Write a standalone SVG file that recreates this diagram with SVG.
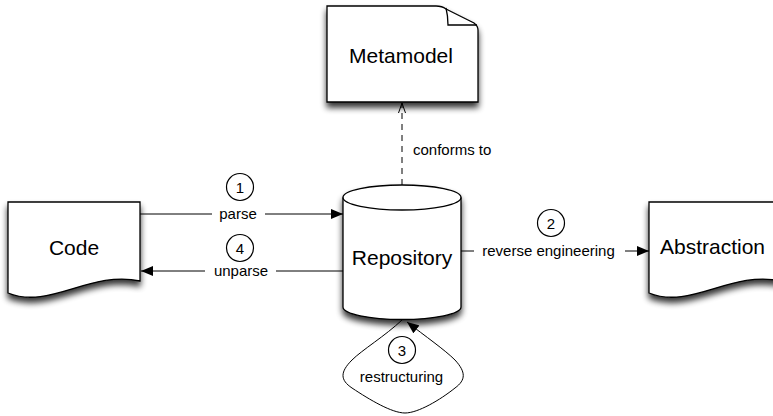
<svg xmlns="http://www.w3.org/2000/svg" width="773" height="416" viewBox="0 0 773 416">
<defs>
<filter id="sh" x="-20%" y="-20%" width="140%" height="150%">
<feGaussianBlur in="SourceAlpha" stdDeviation="3"/>
<feOffset dx="0" dy="5" result="b"/>
<feComponentTransfer><feFuncA type="linear" slope="0.8"/></feComponentTransfer>
<feMerge><feMergeNode/><feMergeNode in="SourceGraphic"/></feMerge>
</filter>
<marker id="arr" viewBox="0 0 12 10" refX="12" refY="5" markerWidth="12" markerHeight="10" markerUnits="userSpaceOnUse" orient="auto">
<path d="M0,0 L12,5 L0,10 Z" fill="#000"/>
</marker>
<marker id="open" viewBox="0 0 10 8" refX="10" refY="4" markerWidth="10" markerHeight="8" markerUnits="userSpaceOnUse" orient="auto">
<path d="M0,0.5 L10,4 L0,7.5" fill="none" stroke="#000" stroke-width="1"/>
</marker>
</defs>
<style>
.node{fill:#fff;stroke:#000;stroke-width:1.3;filter:url(#sh)}
.line{fill:none;stroke:#000;stroke-width:1.3}
.conn{fill:none;stroke:#000;stroke-width:1}
.nl{font-family:"Liberation Sans",Arial,sans-serif;font-size:21px;fill:#000;text-anchor:middle}
.lbl{font-family:"Liberation Sans",Arial,sans-serif;font-size:15px;fill:#000;text-anchor:middle}
.num{fill:#fff;stroke:#000;stroke-width:1.2}
</style>
<rect width="773" height="416" fill="#fff"/>
<g id="metamodel">
<path class="node" d="M327,6 H436 Q442,6 446,9 L474,23 Q478,26 478,30 V102 H327 Z"/>
<path class="line" d="M446,8 Q448,16 448,25 H477"/>
<text class="nl" x="401" y="63">Metamodel</text>
</g>
<g id="code">
<path class="node" d="M8,202 H140 V281 C90,270 50,310 8,293 Z"/>
<text class="nl" x="74" y="255">Code</text>
</g>
<g id="abstraction">
<path class="node" d="M649,202 H781 V281 C731,270 691,310 649,293 Z"/>
<text class="nl" x="660" y="254" style="text-anchor:start">Abstraction</text>
</g>
<g id="repository">
<path class="node" d="M343,197.5 A59,12.5 0 0 1 461,197.5 V307 A59,12.5 0 0 1 343,307 Z"/>
<path class="line" d="M343,197.5 A59,12.5 0 0 0 461,197.5"/>
<text class="nl" x="402" y="265">Repository</text>
</g>
<g id="connectors">
<line class="conn" x1="402" y1="185" x2="402" y2="103" stroke-dasharray="6,5" marker-end="url(#open)"/>
<text class="lbl" x="413" y="155" style="text-anchor:start">conforms to</text>
<line class="conn" x1="140" y1="214" x2="212" y2="214"/>
<line class="conn" x1="265" y1="214" x2="343" y2="214" marker-end="url(#arr)"/>
<text class="lbl" x="238" y="219">parse</text>
<circle class="num" cx="240" cy="187" r="13.5"/>
<text class="lbl" x="240" y="192.5">1</text>
<line class="conn" x1="343" y1="271" x2="276" y2="271"/>
<line class="conn" x1="205" y1="271" x2="141" y2="271" marker-end="url(#arr)"/>
<text class="lbl" x="241" y="276">unparse</text>
<circle class="num" cx="240" cy="248" r="13.5"/>
<text class="lbl" x="240" y="253.5">4</text>
<line class="conn" x1="461" y1="251" x2="474" y2="251"/>
<line class="conn" x1="625" y1="251" x2="649" y2="251" marker-end="url(#arr)"/>
<text class="lbl" x="548.5" y="256">reverse engineering</text>
<circle class="num" cx="551" cy="223" r="13.5"/>
<text class="lbl" x="551" y="228.5">2</text>
<path class="conn" d="M402,320 C385,336 362,350 352,360 C340,372 340,380 352,388 C370,400 392,413 405,413 C418,413 440,400 455,388 C466,380 466,372 455,360 C445,350 425,336 407,322" marker-end="url(#arr)"/>
<circle class="num" cx="402" cy="350" r="13.5"/>
<text class="lbl" x="402" y="355.5">3</text>
<text class="lbl" x="401.5" y="382">restructuring</text>
</g>
</svg>
